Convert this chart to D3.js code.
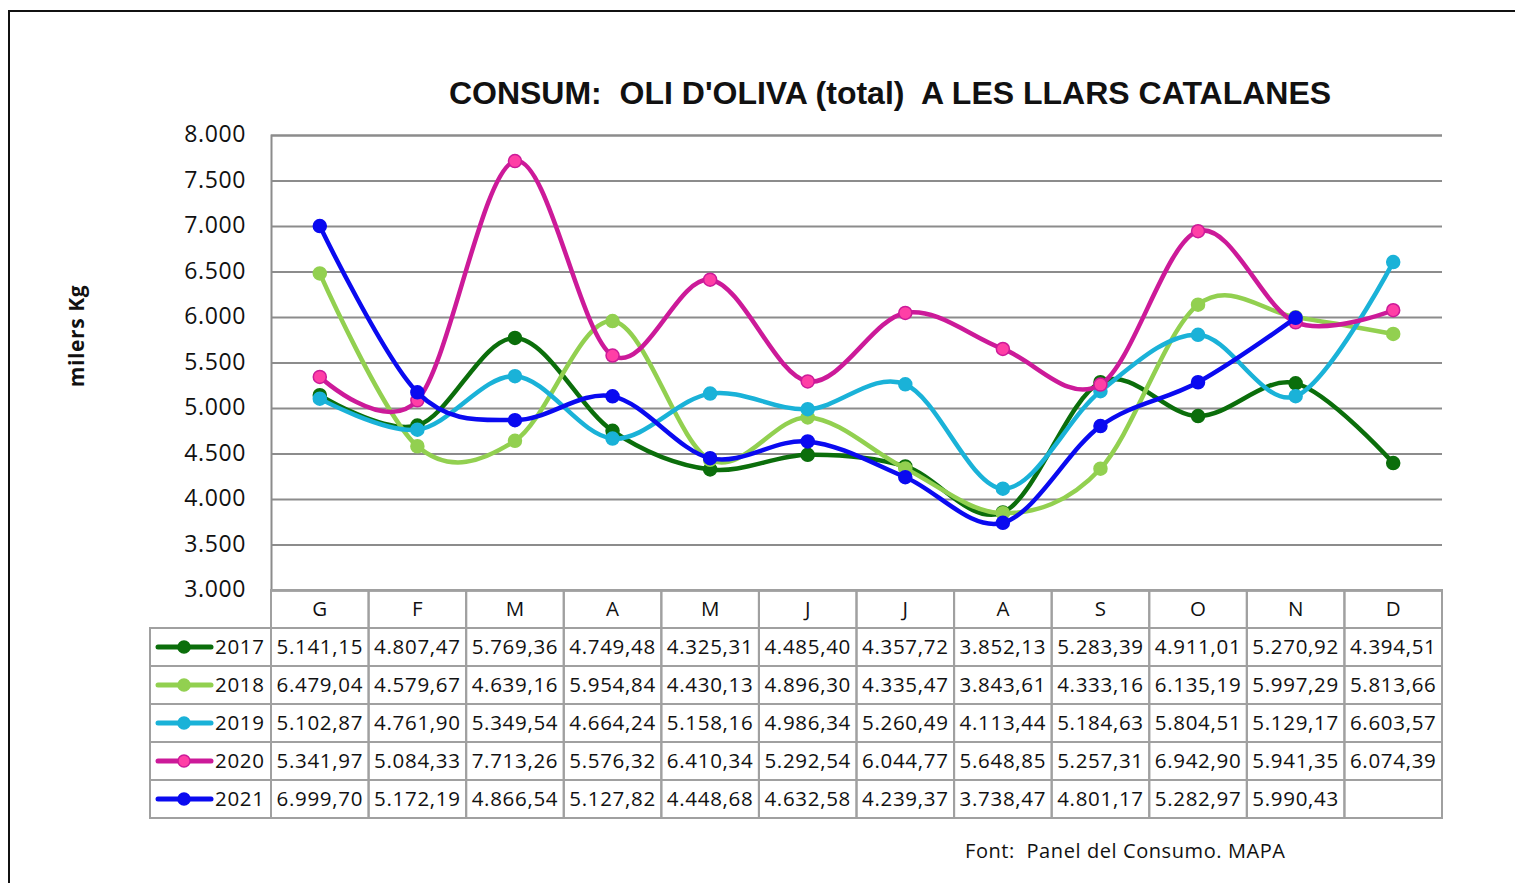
<!DOCTYPE html>
<html>
<head>
<meta charset="utf-8">
<script src="https://cdn.jsdelivr.net/npm/d3@7"></script>
<style>
  body { margin: 0; background: #fff; }
  svg text { white-space: pre; }
</style>
</head>
<body>
<svg id="chart" width="1515" height="883"></svg>
<script>
var months = ['G', 'F', 'M', 'A', 'M', 'J', 'J', 'A', 'S', 'O', 'N', 'D'];
var years = ['2017', '2018', '2019', '2020', '2021'];
var yTicks = [3000, 3500, 4000, 4500, 5000, 5500, 6000, 6500, 7000, 7500, 8000];

var v2017 = [5141.15, 4807.47, 5769.36, 4749.48, 4325.31, 4485.40, 4357.72, 3852.13, 5283.39, 4911.01, 5270.92, 4394.51];
var v2018 = [6479.04, 4579.67, 4639.16, 5954.84, 4430.13, 4896.30, 4335.47, 3843.61, 4333.16, 6135.19, 5997.29, 5813.66];
var v2019 = [5102.87, 4761.90, 5349.54, 4664.24, 5158.16, 4986.34, 5260.49, 4113.44, 5184.63, 5804.51, 5129.17, 6603.57];
var v2020 = [5341.97, 5084.33, 7713.26, 5576.32, 6410.34, 5292.54, 6044.77, 5648.85, 5257.31, 6942.90, 5941.35, 6074.39];
var v2021 = [6999.70, 5172.19, 4866.54, 5127.82, 4448.68, 4632.58, 4239.37, 3738.47, 4801.17, 5282.97, 5990.43, null];

var lineColors = ['#0b6e0b', '#92d050', '#1ab2d8', '#cc1a99', '#0a0af0'];
var markerFills = ['#0b6e0b', '#92d050', '#1ab2d8', '#ff3fa6', '#0a0af0'];

var series = [v2017, v2018, v2019, v2020, v2021].map(function (vals, i) {
  return { year: years[i], values: vals, color: lineColors[i], fill: markerFills[i] };
});

var svg = d3.select('#chart');
var font = "'Open Sans', sans-serif";
var gridColor = '#8c8c8c';
var tableColor = '#a0a0a0';

// outer frame (runs off the right and bottom edge)
svg.append('rect').attr('x', 9).attr('y', 11).attr('width', 1530).attr('height', 900)
  .attr('fill', 'none').attr('stroke', '#111').attr('stroke-width', 2);

var plot = { left: 271, right: 1442, top: 135, bottom: 590 };

var x = d3.scaleBand().domain(d3.range(12)).range([plot.left, plot.right]);
var y = d3.scaleLinear().domain([3000, 8000]).range([plot.bottom, plot.top]);

// title
svg.append('text')
  .attr('x', 890).attr('y', 104)
  .attr('text-anchor', 'middle')
  .attr('font-family', "'Liberation Sans', Arial, sans-serif")
  .attr('font-weight', 'bold')
  .attr('font-size', 32)
  .attr('fill', '#111')
  .text("CONSUM:  OLI D'OLIVA (total)  A LES LLARS CATALANES");

// y axis title
svg.append('text')
  .attr('transform', 'translate(84,336) rotate(-90)')
  .attr('text-anchor', 'middle')
  .attr('font-family', font)
  .attr('font-weight', 'bold')
  .attr('font-size', 21)
  .attr('letter-spacing', 0.6)
  .attr('fill', '#111')
  .text('milers Kg');

// gridlines
var yAxis = d3.axisLeft(y).tickValues(yTicks)
  .tickSize(-(plot.right - plot.left))
  .tickPadding(25)
  .tickFormat(function (d) { return d3.format(',')(d).replace(/,/g, '.'); });

var yG = svg.append('g').attr('transform', 'translate(' + plot.left + ',0)').call(yAxis);
yG.select('.domain').attr('stroke', gridColor).attr('stroke-width', 2);
yG.selectAll('.tick line').attr('stroke', gridColor).attr('stroke-width', 1.8);
yG.selectAll('.tick text')
  .attr('font-family', font).attr('font-size', 23).attr('letter-spacing', 0.6).attr('fill', '#111')
  .attr('dy', '0.3em');

// table
var rowH = 38;
var tableTop = plot.bottom;
var legendLeft = 150;
var tbl = svg.append('g');

// header row cells
tbl.selectAll('rect.head').data(months).enter().append('rect')
  .attr('x', function (d, i) { return x(i); })
  .attr('y', tableTop)
  .attr('width', x.bandwidth())
  .attr('height', rowH)
  .attr('fill', 'none').attr('stroke', tableColor).attr('stroke-width', 2);

tbl.selectAll('text.head').data(months).enter().append('text')
  .attr('x', function (d, i) { return x(i) + x.bandwidth() / 2; })
  .attr('y', tableTop + rowH / 2 + 7)
  .attr('text-anchor', 'middle')
  .attr('font-family', font).attr('font-size', 20.5).attr('fill', '#111')
  .text(function (d) { return d; });

var fmt = function (v) {
  if (v === null) return '';
  var s = d3.format(',.2f')(v);
  return s.replace(/,/g, '#').replace('.', ',').replace('#', '.');
};

var rows = tbl.selectAll('g.row').data(series).enter().append('g')
  .attr('transform', function (d, i) { return 'translate(0,' + (tableTop + rowH * (i + 1)) + ')'; });

rows.append('rect')
  .attr('x', legendLeft).attr('y', 0)
  .attr('width', plot.left - legendLeft).attr('height', rowH)
  .attr('fill', 'none').attr('stroke', tableColor).attr('stroke-width', 2);

rows.selectAll('rect.cell').data(function (d) { return d.values; }).enter().append('rect')
  .attr('x', function (d, i) { return x(i); })
  .attr('y', 0)
  .attr('width', x.bandwidth()).attr('height', rowH)
  .attr('fill', 'none').attr('stroke', tableColor).attr('stroke-width', 2);

rows.selectAll('text.val').data(function (d) { return d.values; }).enter().append('text')
  .attr('x', function (d, i) { return x(i) + x.bandwidth() / 2; })
  .attr('y', rowH / 2 + 7)
  .attr('text-anchor', 'middle')
  .attr('font-family', font).attr('font-size', 20.5).attr('letter-spacing', 0.7).attr('fill', '#111')
  .text(fmt);

rows.append('line')
  .attr('x1', 158).attr('x2', 211)
  .attr('y1', rowH / 2).attr('y2', rowH / 2)
  .attr('stroke', function (d) { return d.color; })
  .attr('stroke-width', 5).attr('stroke-linecap', 'round');

rows.append('circle')
  .attr('cx', 184).attr('cy', rowH / 2).attr('r', 6)
  .attr('fill', function (d) { return d.fill; })
  .attr('stroke', function (d) { return d.color; }).attr('stroke-width', 1.5);

rows.append('text')
  .attr('x', 215).attr('y', rowH / 2 + 7)
  .attr('font-family', font).attr('font-size', 20.5).attr('letter-spacing', 0.7).attr('fill', '#111')
  .text(function (d) { return d.year; });

// lines (Excel-style smoothing)
var line = d3.line()
  .defined(function (d) { return d !== null; })
  .x(function (d, i) { return x(i) + x.bandwidth() / 2; })
  .y(function (d) { return y(d); })
  .curve(d3.curveCardinal.tension(0));

var lines = svg.append('g');
series.forEach(function (s) {
  var g = lines.append('g');
  g.append('path')
    .attr('d', line(s.values))
    .attr('fill', 'none')
    .attr('stroke', s.color)
    .attr('stroke-width', 4.5)
    .attr('stroke-linejoin', 'round');
  g.selectAll('circle')
    .data(s.values.map(function (v, i) { return { v: v, i: i }; })
      .filter(function (d) { return d.v !== null; }))
    .enter().append('circle')
    .attr('cx', function (d) { return x(d.i) + x.bandwidth() / 2; })
    .attr('cy', function (d) { return y(d.v); })
    .attr('r', 6.5)
    .attr('fill', s.fill)
    .attr('stroke', s.color)
    .attr('stroke-width', 1.5);
});

// source note
svg.append('text')
  .attr('x', 965).attr('y', 858)
  .attr('font-family', font).attr('font-size', 20).attr('fill', '#111')
  .attr('textLength', 320).attr('lengthAdjust', 'spacing')
  .text('Font:  Panel del Consumo. MAPA');
</script>
</body>
</html>
